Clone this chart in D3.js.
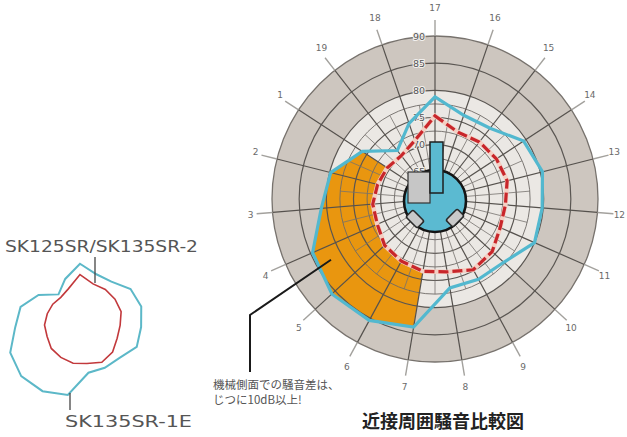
<!DOCTYPE html>
<html><head><meta charset="utf-8">
<script src="https://cdn.jsdelivr.net/npm/d3@7"></script>
<style>body{margin:0;background:#fff}svg{display:block}</style>
</head><body>
<svg id="c" width="627" height="437"></svg>
<script>
// ---- data ----
const spokeLabels = ["17","16","15","14","13","12","11","10","9","8","7","6","5","4","3","2","1","19","18"];
const sk135sr1e = [78.8,76.3,76.5,79.5,80.4,79.8,80.0,77.2,76.8,76.6,83.9,85.4,85.8,84.6,81.0,79.8,76.0,71.3,74.7];
const sk125sr   = [75.3,73.0,73.3,73.5,73.7,73.0,73.1,74.3,74.8,73.6,73.5,73.0,72.6,71.6,71.5,70.9,70.5,70.1,71.4];
const ringTicks = [65,70,75,80,85,90];
const minorRings = [62.5,67.5,72.5,77.5];
const highlightSpokes = ["7","6","5","4","3","2","1"];
const title = "近接周囲騒音比較図";
const noteLines = ["機械側面での騒音差は、","じつに10dB以上!"];
const legendNames = ["SK125SR/SK135SR-2","SK135SR-1E"];

// ---- layout ----
const svg = d3.select("#c");
const cx = 435, cy = 199, R = 163;
const n = spokeLabels.length;
const r = d3.scaleLinear().domain([60,90]).range([0,R]);
const ang = d3.scaleLinear().domain([0,n]).range([0,2*Math.PI]);
const px = (i,rad)=>[cx+rad*Math.sin(ang(i)), cy-rad*Math.cos(ang(i))];

const g = svg.append("g").attr("transform",`translate(${cx},${cy})`);

// backgrounds
g.append("circle").attr("r",r(90)).attr("fill","#cdc6bf").attr("stroke","#77726d").attr("stroke-width",1.3);
g.append("circle").attr("r",r(80)).attr("fill","#ebe8e4");

// orange highlight between the two curves
const idx = highlightSpokes.map(l=>spokeLabels.indexOf(l));
const area = d3.areaRadial()
  .angle(i=>ang(i))
  .innerRadius(i=>r(sk125sr[i]))
  .outerRadius(i=>r(sk135sr1e[i]));
g.append("path").attr("d",area(idx)).attr("fill","#e9960f");

// grid
g.selectAll(".minor").data(minorRings).join("circle")
  .attr("r",d=>r(d)).attr("fill","none").attr("stroke","#6e6a66").attr("stroke-width",0.9);
g.selectAll(".major").data([65,70,75,80,85]).join("circle")
  .attr("r",d=>r(d)).attr("fill","none").attr("stroke","#5a5652").attr("stroke-width",1.2);
// minor half spokes (inner region)
g.selectAll(".hs").data(d3.range(n)).join("line")
  .attr("x1",i=>r(62.5)*Math.sin(ang(i+0.5))).attr("y1",i=>-r(62.5)*Math.cos(ang(i+0.5)))
  .attr("x2",i=>r(77.5)*Math.sin(ang(i+0.5))).attr("y2",i=>-r(77.5)*Math.cos(ang(i+0.5)))
  .attr("stroke","#76726e").attr("stroke-width",0.8);
// main spokes
g.selectAll(".sp").data(d3.range(n)).join("line")
  .attr("x1",0).attr("y1",0)
  .attr("x2",i=>r(90)*Math.sin(ang(i))).attr("y2",i=>-r(90)*Math.cos(ang(i)))
  .attr("stroke","#55514d").attr("stroke-width",1.2);
// spoke extensions
g.selectAll(".ext").data(d3.range(n)).join("line")
  .attr("x1",i=>r(90)*Math.sin(ang(i))).attr("y1",i=>-r(90)*Math.cos(ang(i)))
  .attr("x2",i=>(R+16)*Math.sin(ang(i))).attr("y2",i=>-(R+16)*Math.cos(ang(i)))
  .attr("stroke","#a3a19d").attr("stroke-width",1.4);
// spoke labels
g.selectAll(".sl").data(d3.range(n)).join("text")
  .attr("x",i=>(R+22)*Math.sin(ang(i))).attr("y",i=>-(R+28)*Math.cos(ang(i)))
  .attr("text-anchor","middle").attr("dominant-baseline","central")
  .attr("font-family","DejaVu Sans, sans-serif").attr("font-size",9).attr("fill","#6a6a6a")
  .text(i=>spokeLabels[i]);

// ring labels
g.selectAll(".rl").data(ringTicks).join("text")
  .attr("x",-16).attr("y",d=>-r(d))
  .attr("text-anchor","middle").attr("dominant-baseline","central")
  .attr("font-family","DejaVu Sans, sans-serif").attr("font-size",9.5).attr("fill","#555")
  .attr("stroke","#f2f0ee").attr("stroke-width",2).attr("paint-order","stroke")
  .text(d=>d);

// curves
const line = vals => d3.lineRadial().curve(d3.curveLinearClosed)
  .angle(i=>ang(i)).radius(i=>r(vals[i]))(d3.range(n));
g.append("path").attr("d",line(sk125sr)).attr("fill","none")
  .attr("stroke","#f4cfc3").attr("stroke-width",4.5);
g.append("path").attr("d",line(sk125sr)).attr("fill","none")
  .attr("stroke","#c8262b").attr("stroke-width",3.2).attr("stroke-dasharray","10,4");
g.append("path").attr("d",line(sk135sr1e)).attr("fill","none")
  .attr("stroke","#52b8cf").attr("stroke-width",3.2).attr("stroke-linejoin","miter");

// machine icon at centre
const ic = g.append("g").attr("transform","translate(0,2)");
ic.append("circle").attr("r",31).attr("fill","#5bbad1").attr("stroke","#141414").attr("stroke-width",2.6);
[[-20,18,45],[20,17,-45]].forEach(([x,y,a])=>{
  ic.append("rect").attr("x",-8).attr("y",-5).attr("width",16).attr("height",10).attr("rx",2)
    .attr("transform",`translate(${x},${y}) rotate(${a})`)
    .attr("fill","#c9c9c9").attr("stroke","#2a2a2a").attr("stroke-width",1.6);
});
ic.append("rect").attr("x",-27).attr("y",-29).attr("width",22).attr("height",31)
  .attr("fill","#c6c6c6").attr("stroke","#333").attr("stroke-width",1.2);
ic.append("rect").attr("x",-5).attr("y",-59).attr("width",13).attr("height",51)
  .attr("fill","#5bbad1").attr("stroke","#1e1e1e").attr("stroke-width",1.5);

// annotation
const ap = px(spokeLabels.indexOf("4"), r(80.5));
svg.append("polyline")
  .attr("points",`${ap[0]-2},${ap[1]+16} 250,315 250,372`)
  .attr("fill","none").attr("stroke","#1a1a1a").attr("stroke-width",2);
svg.selectAll(".nt").data(noteLines).join("text")
  .attr("x",213).attr("y",(d,i)=>389+i*15)
  .attr("font-family","Noto Sans CJK JP, sans-serif").attr("font-size",11.5).attr("fill","#555")
  .text(d=>d);
svg.append("text").attr("x",362).attr("y",428)
  .attr("font-family","Noto Sans CJK JP, sans-serif").attr("font-weight","bold")
  .attr("font-size",18).attr("fill","#222").text(title);

// mini legend shapes
const rm = d3.scaleLinear().domain([60,90]).range([0,R*0.57]);
const lg = svg.append("g").attr("transform","translate(80,322)");
const mline = vals => d3.lineRadial().curve(d3.curveLinearClosed)
  .angle(i=>ang(i)).radius(i=>rm(vals[i]))(d3.range(n));
lg.append("path").attr("d",mline(sk135sr1e)).attr("fill","none").attr("stroke","#5cb8c8").attr("stroke-width",2);
lg.append("path").attr("d",mline(sk125sr)).attr("fill","none").attr("stroke","#c2393c").attr("stroke-width",1.6);

svg.append("line").attr("x1",95).attr("y1",257).attr("x2",95).attr("y2",283).attr("stroke","#444").attr("stroke-width",1.3);
svg.append("line").attr("x1",70).attr("y1",393).attr("x2",70).attr("y2",410).attr("stroke","#444").attr("stroke-width",1.3);
svg.append("text").attr("x",5).attr("y",252).attr("font-family","DejaVu Sans, sans-serif")
  .attr("font-size",15).attr("fill","#555").attr("textLength",193).attr("lengthAdjust","spacingAndGlyphs")
  .text(legendNames[0]);
svg.append("text").attr("x",65).attr("y",427).attr("font-family","DejaVu Sans, sans-serif")
  .attr("font-size",15).attr("fill","#555").attr("textLength",127).attr("lengthAdjust","spacingAndGlyphs")
  .text(legendNames[1]);
</script>
</body></html>
